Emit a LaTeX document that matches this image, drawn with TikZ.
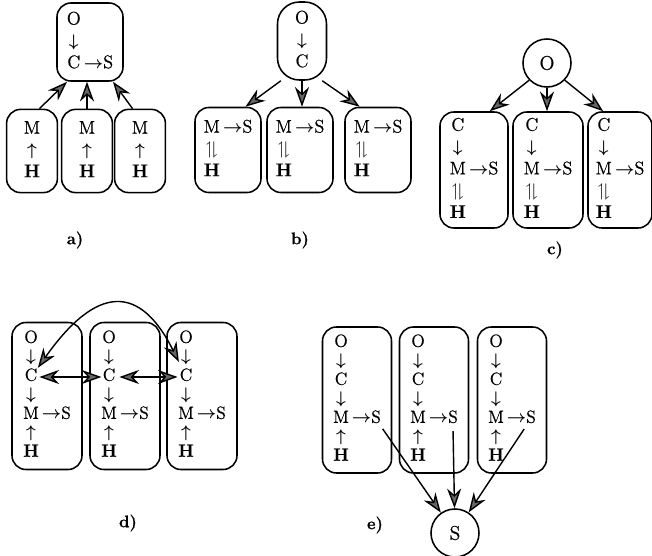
\documentclass[tikz,border=0pt]{standalone}
\usepackage{amssymb}
\usepackage{fontspec}
\setmainfont{Latin Modern Roman}[FakeBold=0.6]
\usetikzlibrary{arrows.meta}

% stacks of levels written inside the boxes
\newcommand{\ocs}{\begin{tabular}{@{}c@{}l@{}}O\\$\downarrow$\\C&\,$\rightarrow$S\end{tabular}}
\newcommand{\oc}{\begin{tabular}{@{}c@{}}O\\$\downarrow$\\C\end{tabular}}
\newcommand{\mh}{\begin{tabular}{@{}c@{}}M\\$\uparrow$\\\textbf{H}\end{tabular}}
\newcommand{\updown}{$\upharpoonleft\!\downharpoonright$}
\newcommand{\msh}{\begin{tabular}{@{}c@{}l@{}}M&\,$\rightarrow$S\\\updown\\\textbf{H}\end{tabular}}
\newcommand{\cmsh}{\begin{tabular}{@{}c@{}l@{}}C\\$\downarrow$\\M&\,$\rightarrow$S\\\updown\\\textbf{H}\end{tabular}}
\newcommand{\ocmsh}{\begin{tabular}{@{}c@{}l@{}}O\\$\downarrow$\\C\\$\downarrow$\\M&\,$\rightarrow$S\\$\uparrow$\\\textbf{H}\end{tabular}}

\begin{document}
\begin{tikzpicture}[x=0.025cm,y=-0.025cm]
  \tikzset{unit/.style = {shape=rectangle,draw,rounded corners=0.35cm,line width=1.1pt,inner sep=0pt,font=\fontsize{13}{15.5}\selectfont\boldmath}}
  \tikzset{tallunit/.style = {unit,font=\fontsize{12.5}{13.5}\selectfont\boldmath}}
  \tikzset{state/.style = {shape=circle,draw,line width=1.1pt,minimum size=1.2cm,inner sep=0pt,font=\fontsize{14}{15}\selectfont}}
  \tikzset{flow/.style = {-{Stealth[length=14pt,width=10pt,fill=black!60]},line width=1pt}}
  \tikzset{both/.style = {{Stealth[length=14pt,width=10pt,fill=black!60]}-{Stealth[length=14pt,width=10pt,fill=black!60]},line width=1pt}}
  \tikzset{caption/.style = {font=\bfseries\fontsize{12}{14}\selectfont}}

  \useasboundingbox (0,0) rectangle (652,556);

  % a)
  \node[unit,minimum width=1.65cm,minimum height=1.95cm] (A0) at (90,42) {\ocs};
  \node[unit,minimum width=1.27cm,minimum height=2.08cm] (a1) at (32,151) {\mh};
  \node[unit,minimum width=1.27cm,minimum height=2.08cm] (a2) at (87,151) {\mh};
  \node[unit,minimum width=1.27cm,minimum height=2.08cm] (a3) at (140,151) {\mh};
  \draw[flow] (a1.80) -- (A0.240);
  \draw[flow] (a2.north) -- (a2.north |- A0.south);
  \draw[flow] (a3.100) -- (A0.300);
  \node[caption] (la) at (75,240) {a)};

  % b)
  \node[unit,rounded corners=0.55cm,minimum width=1.225cm,minimum height=1.95cm] (B0) at (302,41) {\oc};
  \node[unit,minimum width=1.65cm,minimum height=2.125cm] (b1) at (228,150) {\msh};
  \node[unit,minimum width=1.65cm,minimum height=2.125cm] (b2) at (300,150) {\msh};
  \node[unit,minimum width=1.65cm,minimum height=2.125cm] (b3) at (378,150) {\msh};
  \draw[flow] (B0.242) -- (b1.68);
  \draw[flow] (B0.south) -- (B0.south |- b2.north);
  \draw[flow] (B0.297) -- (b3.113);
  \node[caption] (lb) at (300,240) {b)};

  % c)
  \node[state] (C0) at (547,63) {O};
  \node[unit,minimum width=1.7cm,minimum height=2.9cm] (c1) at (474,170) {\cmsh};
  \node[unit,minimum width=1.75cm,minimum height=2.9cm] (c2) at (548,170) {\cmsh};
  \node[unit,minimum width=1.6cm,minimum height=2.9cm] (c3) at (620,170) {\cmsh};
  \draw[flow] (C0.224) -- (c1.75);
  \draw[flow] (C0.south) -- (C0.south |- c2.north);
  \draw[flow] (C0.316) -- (c3.106);
  \node[caption] (lc) at (555,250) {c)};

  % d)
  \node[tallunit,minimum width=1.75cm,minimum height=3.675cm] (d1) at (47,396) {\ocmsh};
  \node[tallunit,minimum width=1.75cm,minimum height=3.675cm] (d2) at (125,396) {\ocmsh};
  \node[tallunit,minimum width=1.75cm,minimum height=3.675cm] (d3) at (202,396) {\ocmsh};
  \coordinate (dc1) at ([xshift=-0.39cm,yshift=0.475cm]d1.center);
  \coordinate (dc2) at ([xshift=-0.39cm,yshift=0.475cm]d2.center);
  \coordinate (dc3) at ([xshift=-0.39cm,yshift=0.475cm]d3.center);
  \draw[both,shorten <=0.2cm,shorten >=0.2cm] (dc1) -- (dc2);
  \draw[both,shorten <=0.25cm,shorten >=0.22cm] (dc2) -- (dc3);
  \draw[both,shorten <=0.28cm,shorten >=0.42cm] (dc1) .. controls (97,284) and (140,284) .. (dc3);
  \node[caption] (ld) at (128,523) {d)};

  % e)
  \node[tallunit,minimum width=1.725cm,minimum height=3.65cm] (e1) at (357,400) {\ocmsh};
  \node[tallunit,minimum width=1.725cm,minimum height=3.65cm] (e2) at (434,400) {\ocmsh};
  \node[tallunit,minimum width=1.725cm,minimum height=3.65cm] (e3) at (512,400) {\ocmsh};
  \coordinate (es1) at ([xshift=0.47cm,yshift=-0.475cm]e1.center);
  \coordinate (es2) at ([xshift=0.47cm,yshift=-0.475cm]e2.center);
  \coordinate (es3) at ([xshift=0.47cm,yshift=-0.475cm]e3.center);
  \node[state] (S0) at (455,533) {S};
  \draw[flow,shorten <=0.3cm] (es1) -- (S0);
  \draw[flow,shorten <=0.3cm] (es2) -- (S0);
  \draw[flow,shorten <=0.3cm] (es3) -- (S0);
  \node[caption] (le) at (375,525) {e)};
\end{tikzpicture}
\end{document}
